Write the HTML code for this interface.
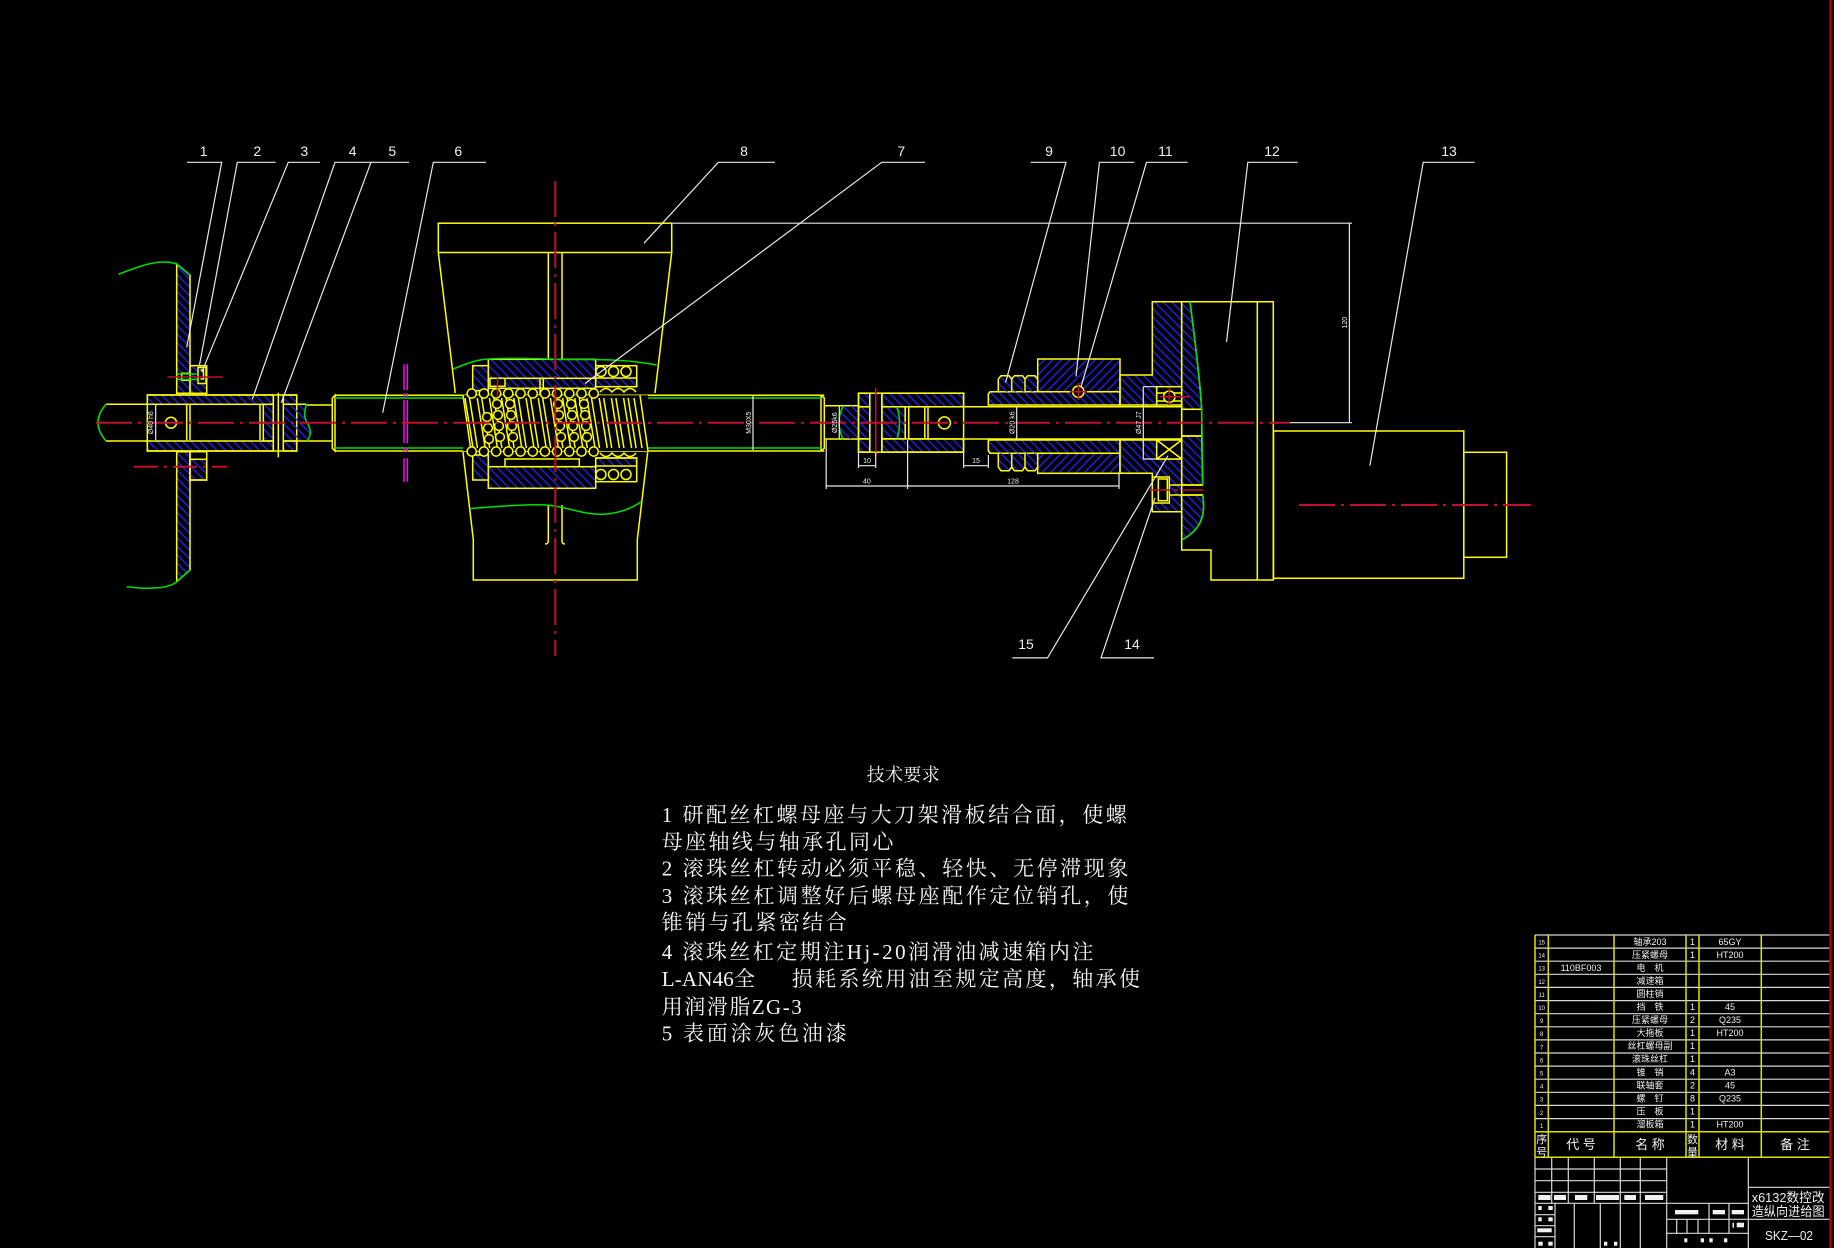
<!DOCTYPE html>
<html><head><meta charset="utf-8"><title>x6132</title>
<style>html,body{margin:0;padding:0;background:#000;overflow:hidden}svg{display:block}</style>
</head><body>
<svg xmlns="http://www.w3.org/2000/svg" width="1834" height="1248" viewBox="0 0 1834 1248">
<defs>
<pattern id="hA" patternUnits="userSpaceOnUse" width="6" height="6" patternTransform="rotate(-45)"><line x1="3" y1="-1" x2="3" y2="7" stroke="#2424ff" stroke-width="1.3"/></pattern>
<pattern id="hB" patternUnits="userSpaceOnUse" width="6" height="6" patternTransform="rotate(45)"><line x1="3" y1="-1" x2="3" y2="7" stroke="#2424ff" stroke-width="1.3"/></pattern>
</defs>
<rect width="1834" height="1248" fill="#000"/>

<!-- ============ LEFT ASSEMBLY ============ -->
<g stroke="#ffff00" stroke-width="1.5" fill="none">
<path d="M176.7,264 L190,275 L190,393.3 L176.7,393.3 Z" fill="url(#hA)"/>
<rect x="190" y="365.7" width="16.7" height="27.6" fill="url(#hA)"/>
<rect x="181.7" y="373.3" width="8.3" height="7" fill="#000"/>
<rect x="198" y="367.5" width="8" height="16" fill="#000"/>
<path d="M200.5,370 h3 v9 h-3"/>
<path d="M176.7,451.7 L190,451.7 L190,570 L176.7,581.7 Z" fill="url(#hA)"/>
<rect x="190" y="451.7" width="16.7" height="28.3"/>
<rect x="190" y="459.3" width="16.7" height="20.7" fill="url(#hA)"/>
<!-- sleeve -->
<rect x="147.3" y="395" width="126" height="9.3" fill="url(#hA)"/>
<rect x="147.3" y="441" width="126" height="10" fill="url(#hA)"/>
<rect x="283.3" y="395" width="13.4" height="9.3" fill="url(#hA)"/>
<rect x="283.3" y="441" width="13.4" height="10" fill="url(#hA)"/>
<rect x="147.3" y="395" width="149.4" height="56"/>
<rect x="263.3" y="404.3" width="10" height="36.7" fill="url(#hA)"/>
<path d="M283.3,404.3 L306.7,404.3 Q302,416 308,424 Q313,434 307,441 L283.3,441 Z" fill="url(#hA)" stroke="none"/>
<path d="M283.3,404.3 H306.7 M283.3,441 H307"/>
<path d="M186.7,405 V440 M190,405 V440 M260,405 V440"/>
<circle cx="171" cy="422.7" r="5.5"/>
<path d="M273.3,395 V451 M283.3,395 V451 M278.3,392.7 V457.3"/>
<!-- shafts -->
<path d="M106,404.3 H147.3 M106,441 H147.3"/>
<path d="M306.7,405 H332.3 M307,441 H332.3"/>
<!-- spindle -->
<path d="M335,395.3 H824.3 M335,451 H824.3"/>
<path d="M335,395.3 L332.3,398 L332.3,448.3 L335,451 Z"/>
<path d="M821,395.3 V451 M821,395.3 L824.3,398 L824.3,448.3 L821,451"/>
</g>
<g stroke="#00e000" stroke-width="1.5" fill="none">
<path d="M118.3,274.3 C140,266 160,258 176.7,264 L190,275"/>
<path d="M126.7,586.7 C150,590 170,588 176.7,581.7 L190,570"/>
<path d="M106,404.3 Q90,422.7 106,441"/>
<path d="M306.7,404.3 Q302,416 308,424 Q313,434 307,441"/>
<path d="M176.7,374 H198 M176.7,379.5 H198"/>
<path d="M335,398 H463 M648,398 H821 M335,448 H463 M648,448 H821"/>
</g>
<!-- magenta section marks -->
<g stroke="#ff00ff" stroke-width="1.5">
<path d="M404,364.3 V390 M404,393.3 V396.7 M404,400 V443.3 M404,447.7 V451.7 M404,458.3 V481.7"/>
<path d="M407.3,364.3 V390 M407.3,393.3 V396.7 M407.3,400 V443.3 M407.3,447.7 V451.7 M407.3,458.3 V481.7"/>
</g>

<!-- ============ NUT HOUSING 8 ============ -->
<g stroke="#ffff00" stroke-width="1.5" fill="none">
<rect x="438.3" y="223.2" width="233.4" height="29.3"/>
<path d="M438.3,252.5 L455.3,393 M671.7,252.5 L655,393"/>
<path d="M463,452 L473.3,539.6 L473.3,580 L637.3,580 L637.3,539.6 L647.7,452"/>
<path d="M548.3,252.5 V360 M562,252.5 V360"/>
<path d="M548.3,505 V541 Q548.3,544 545,544 M562,505 V541 Q562,544 565,544"/>
<!-- ball nut blocks -->
<rect x="488.3" y="359.3" width="107.4" height="19" fill="url(#hA)"/>
<rect x="472.7" y="365.7" width="15.6" height="25" fill="url(#hA)"/>
<rect x="488.3" y="378.3" width="107.4" height="10" fill="url(#hA)"/>
<path d="M540,378.3 V395 M543.3,378.3 V395"/>
<rect x="490" y="378.3" width="15" height="8" fill="#000"/>
<rect x="595.7" y="365.7" width="41" height="21"/>
<rect x="595.7" y="378" width="41" height="8.7" fill="url(#hA)"/>
<circle cx="601" cy="371.5" r="5" fill="#000"/><circle cx="613.5" cy="371.5" r="5" fill="#000"/><circle cx="626" cy="371.5" r="5" fill="#000"/>
<rect x="472.7" y="455" width="15.6" height="25" fill="url(#hA)"/>
<rect x="505" y="459" width="74.3" height="7.7"/>
<rect x="488.3" y="466.7" width="107.4" height="21.6" fill="url(#hA)"/>
<rect x="595.7" y="458" width="41" height="23.7"/>
<rect x="595.7" y="458" width="41" height="8" fill="url(#hA)"/>
<circle cx="601" cy="474.5" r="5" fill="#000"/><circle cx="613.5" cy="474.5" r="5" fill="#000"/><circle cx="626" cy="474.5" r="5" fill="#000"/>
<!-- thread -->
<rect x="463" y="395.3" width="185" height="55.7" fill="#000" stroke="none"/>
<path d="M463,395.3 L471,451 M640,395.3 L648,451"/>
<path d="M465,398 l8,50 M469.5,398 l8,50 M477.2,398 l8,50 M481.7,398 l8,50 M489.4,398 l8,50 M493.9,398 l8,50 M501.6,398 l8,50 M506.1,398 l8,50 M513.8,398 l8,50 M518.3,398 l8,50 M526,398 l8,50 M530.5,398 l8,50 M538.2,398 l8,50 M542.7,398 l8,50 M550.4,398 l8,50 M554.9,398 l8,50 M562.6,398 l8,50 M567.1,398 l8,50 M574.8,398 l8,50 M579.3,398 l8,50 M587,398 l8,50 M591.5,398 l8,50 M599.2,398 l8,50 M603.7,398 l8,50 M611.4,398 l8,50 M615.9,398 l8,50 M623.6,398 l8,50 M628.1,398 l8,50 M634,398 l8,50"/>
<g fill="#000">
<circle cx="471.7" cy="393.5" r="4.6"/><circle cx="483.9" cy="393.5" r="4.6"/><circle cx="496.1" cy="393.5" r="4.6"/><circle cx="508.3" cy="393.5" r="4.6"/><circle cx="520.5" cy="393.5" r="4.6"/><circle cx="532.7" cy="393.5" r="4.6"/><circle cx="544.9" cy="393.5" r="4.6"/><circle cx="557.1" cy="393.5" r="4.6"/><circle cx="569.3" cy="393.5" r="4.6"/><circle cx="581.5" cy="393.5" r="4.6"/><circle cx="593.7" cy="393.5" r="4.6"/>
<circle cx="471.7" cy="451.5" r="4.6"/><circle cx="483.9" cy="451.5" r="4.6"/><circle cx="496.1" cy="451.5" r="4.6"/><circle cx="508.3" cy="451.5" r="4.6"/><circle cx="520.5" cy="451.5" r="4.6"/><circle cx="532.7" cy="451.5" r="4.6"/><circle cx="544.9" cy="451.5" r="4.6"/><circle cx="557.1" cy="451.5" r="4.6"/><circle cx="569.3" cy="451.5" r="4.6"/><circle cx="581.5" cy="451.5" r="4.6"/><circle cx="593.7" cy="451.5" r="4.6"/>
<circle cx="487" cy="417" r="4.4"/><circle cx="488" cy="428" r="4.4"/><circle cx="489" cy="439" r="4.4"/>
<circle cx="497" cy="404" r="4.4"/><circle cx="498" cy="415" r="4.4"/><circle cx="499" cy="426" r="4.4"/><circle cx="500" cy="437" r="4.4"/>
<circle cx="510" cy="404" r="4.4"/><circle cx="511" cy="415" r="4.4"/><circle cx="512" cy="426" r="4.4"/><circle cx="513" cy="437" r="4.4"/>
<circle cx="558" cy="404" r="4.4"/><circle cx="559" cy="415" r="4.4"/><circle cx="560" cy="426" r="4.4"/><circle cx="561" cy="437" r="4.4"/>
<circle cx="571" cy="404" r="4.4"/><circle cx="572" cy="415" r="4.4"/><circle cx="573" cy="426" r="4.4"/><circle cx="574" cy="437" r="4.4"/>
<circle cx="584" cy="404" r="4.4"/><circle cx="585" cy="415" r="4.4"/><circle cx="586" cy="426" r="4.4"/><circle cx="587" cy="437" r="4.4"/>
</g>
<path d="M600,392 Q606,385 612,392 Q618,385 624,392 Q630,385 636,392 M600,453 Q606,460 612,453 Q618,460 624,453 Q630,460 636,453"/>
</g>
<g stroke="#00e000" stroke-width="1.5" fill="none">
<path d="M453.3,369 C470,362 480,359 490,359 C520,357 550,360 580,359.5 C620,359 640,362 656.7,365"/>
<path d="M470,508.6 C500,506 530,504 546.7,505 C570,507 585,516 606.7,514 C625,512 635,506 641.7,501.4"/>
</g>

<!-- ============ RIGHT OF SPINDLE ============ -->
<g stroke="#ffff00" stroke-width="1.5" fill="none">
<path d="M824.3,405.7 H858.5 M824.3,439 H858.5"/>
<path d="M843,406 Q835,422.7 843,439 L858.5,439 L858.5,406 Z" fill="url(#hA)" stroke="none"/>
<rect x="858.5" y="393.2" width="11.3" height="13.6" fill="url(#hA)"/>
<rect x="858.5" y="438.9" width="11.3" height="13.2" fill="url(#hA)"/>
<rect x="881.9" y="393.2" width="81.7" height="13.6" fill="url(#hA)"/>
<rect x="881.9" y="438.9" width="81.7" height="13.2" fill="url(#hA)"/>
<rect x="858.5" y="406.8" width="11.3" height="32.1" fill="url(#hA)"/>
<path d="M881.9,406.8 H905.2 V438.9 H881.9 Z" fill="url(#hA)"/>
<rect x="858.5" y="393.2" width="105.1" height="58.9"/>
<path d="M869.8,393.2 V452.1 M881.9,393.2 V452.1 M905.2,406.8 V438.9 M908.7,406.8 V438.9"/>
<path d="M908.7,406.8 H1181.7 M908.7,439 H1181.7"/>
<path d="M924.8,407 V438.5 M928,407 V438.5"/>
<circle cx="944.4" cy="422.9" r="6"/>
<path d="M990,391.7 L1120,391.7 L1120,405 L988.3,405 L988.3,394 Z" fill="url(#hA)"/>
<path d="M988.3,440 L1120,440 L1120,453.3 L990,453.3 L988.3,451 Z" fill="url(#hA)"/>
<path d="M998.3,391.7 V379 L1001,375.7 H1009 L1011.7,379 V391.7 M1011.7,391.7 V379 L1014.4,375.7 H1022.4 L1025,379 V391.7 M1025,391.7 V379 L1027.7,375.7 H1035 L1037.7,379 V391.7" fill="url(#hA)"/>
<path d="M998.3,453.3 V467 L1001,470.7 H1009 L1011.7,467 V453.3 M1011.7,453.3 V467 L1014.4,470.7 H1022.4 L1025,467 V453.3 M1025,453.3 V467 L1027.7,470.7 H1035 L1037.7,467 V453.3" fill="url(#hA)"/>
<rect x="1037.7" y="359" width="82.3" height="32.7" fill="url(#hB)"/>
<rect x="1037.7" y="453.3" width="82.3" height="20" fill="url(#hB)"/>
<circle cx="1078.3" cy="391.7" r="5.7" fill="#000"/>
<path d="M1120,375 L1152.3,375 L1152.3,301.7 L1181.7,301.7 L1181.7,386.7 L1156.7,386.7 L1156.7,405 L1120,405 Z" fill="url(#hA)"/>
<path d="M1120,440 L1156.7,440 L1156.7,459 L1181.7,459 L1181.7,511.7 L1152.3,511.7 L1152.3,473.3 L1120,473.3 Z" fill="url(#hA)"/>
<rect x="1156.7" y="386.7" width="25" height="18.3" fill="#000"/>
<path d="M1156.7,393 H1181.7 M1156.7,401 H1181.7"/>
<circle cx="1169.3" cy="396.7" r="5.7" fill="#000"/>
<rect x="1156.7" y="440" width="25" height="19" fill="#000"/>
<path d="M1156.7,440 L1181.7,459 M1181.7,440 L1156.7,459"/>
<rect x="1152.3" y="477" width="17" height="26" fill="#000"/>
<rect x="1158.3" y="479" width="9" height="21.7"/>
<path d="M1181.7,301.7 L1190,301.7 C1195,340 1200,380 1201.7,409.3 L1181.7,409.3 Z" fill="url(#hA)"/>
<path d="M1181.7,436 L1201.7,436 L1202.7,485 L1181.7,485 Z" fill="url(#hA)"/>
<rect x="1181.7" y="409.3" width="20" height="26.7"/>
<path d="M1169,485 H1202.7 M1169,495 H1202.7"/>
<path d="M1181.7,495 L1202.7,495 C1206,515 1201,530 1181.7,540 Z" fill="url(#hA)"/>
<path d="M1181.7,301.7 L1273.3,301.7 L1273.3,580 L1211,580 L1211,550 L1181.7,550 Z"/>
<path d="M1257.3,301.7 V580"/>
<rect x="1273.5" y="431" width="190.3" height="147.3"/>
<rect x="1463.8" y="452.3" width="42.8" height="105"/>
</g>
<g stroke="#00e000" stroke-width="1.5" fill="none">
<path d="M843,406 Q835,422.7 843,439"/>
<path d="M897,407 Q902,422.7 897,438.5"/>
<path d="M1190,301.7 C1195,340 1200,380 1201.7,409.3 L1202.7,485"/>
<path d="M1202.7,495 C1206,515 1201,530 1181.7,540"/>
</g>

<!-- ============ CENTERLINES ============ -->
<g stroke="#c0102a" stroke-width="2" fill="none" stroke-dasharray="36 6 3 6">
<path d="M96,422.7 H1290"/>
<path d="M555.3,181 V656"/>
<path d="M1299,505 H1531"/>
<path d="M134,466.7 H227" stroke-dasharray="24 6 3 6"/>
</g>
<g stroke="#c0102a" stroke-width="1.6" fill="none">
<path d="M167.3,377 H222.7"/>
<path d="M497.5,378 V396"/>
<path d="M875.7,387.9 V456"/>
<path d="M1078.3,383 V400 M1070,391.7 H1087"/>
<path d="M1169.3,388 V405 M1160,396.7 H1190"/>
<path d="M1150,490 H1170 M1174,490 H1178 M1182,490 H1203" />
</g>

<!-- ============ WHITE DIMENSIONS & LEADERS ============ -->
<g stroke="#e8e8e8" stroke-width="1.2" fill="none">
<path d="M671.7,223.2 H1352 M1290,422.7 H1352 M1349.4,223.3 V422.7"/>
<path d="M155.7,405 V440 M753,396 V450 M839.3,406 V438.5 M1143.3,386.7 V459 M1143.3,386.7 H1156.7 M1143.3,459 H1156.7 M1016.7,407 V438.5"/>
<path d="M858.5,452 V468 M875.7,452 V468 M858.5,465.7 H875.7"/>
<path d="M963.6,452 V468 M988.4,455 V468 M963.6,465.7 H988.4"/>
<path d="M826.2,440 V489 M907.6,440 V489 M1119,474 V489 M826.2,486 H1119"/>
<path d="M187,162.3 H221.7 L186.7,347.3"/>
<path d="M275.7,162.3 H237.3 L199.3,366"/>
<path d="M320,162.3 H288.3 L201.7,372.3"/>
<path d="M371,162.3 H335 L252.3,399.3"/>
<path d="M409,162.3 H371 L281.3,402.7"/>
<path d="M486,162.3 H433.3 L382.7,412.7"/>
<path d="M775,162.3 H718.3 L644,243.2"/>
<path d="M925,162.3 H881.7 L585,383.6"/>
<path d="M1030.6,162.3 H1066 L1005.6,382.5"/>
<path d="M1134.4,162.3 H1099.4 L1076,376.4"/>
<path d="M1187.7,162.3 H1146.5 L1081,387"/>
<path d="M1297.7,162.3 H1247.8 L1226.5,342"/>
<path d="M1474.6,162.3 H1423.2 L1369.9,465.7"/>
<path d="M1012.4,657.9 H1047.5 L1168,455.7"/>
<path d="M1154,657.9 H1101 L1155,497.9"/>
</g>
<g fill="#f0f0f0" font-family="Liberation Sans, sans-serif" font-size="14" text-anchor="middle">
<text x="203.7" y="156">1</text><text x="257.3" y="156">2</text><text x="304.3" y="156">3</text>
<text x="352.7" y="156">4</text><text x="392.3" y="156">5</text><text x="458.3" y="156">6</text>
<text x="901.3" y="156">7</text><text x="744" y="156">8</text><text x="1049" y="156">9</text>
<text x="1117.6" y="156">10</text><text x="1165.4" y="156">11</text><text x="1272" y="156">12</text>
<text x="1449" y="156">13</text><text x="1132" y="649">14</text><text x="1026" y="649">15</text>
</g>
<g fill="#f0f0f0" font-family="Liberation Sans, sans-serif" font-size="7" text-anchor="middle">
<text transform="translate(153,422.7) rotate(-90)">Ø40 h6</text>
<text transform="translate(751,422.7) rotate(-90)">M30X5</text>
<text transform="translate(837,422.7) rotate(-90)">Ø25k6</text>
<text transform="translate(1014.5,422.7) rotate(-90)">Ø20 k6</text>
<text transform="translate(1141,422.7) rotate(-90)">Ø47 J7</text>
<text transform="translate(1347,322.7) rotate(-90)">120</text>
<text x="867" y="463">10</text><text x="976" y="463">15</text>
<text x="866.9" y="483.5">40</text><text x="1013" y="483.5">128</text>
</g>

<!-- ============ TECH REQUIREMENTS ============ -->
<g fill="#f4f4f4" font-family="Liberation Serif, 'Noto Serif CJK SC', serif" font-size="21">
<text x="866.7" y="781" font-size="18" textLength="73" lengthAdjust="spacing">技术要求</text>
<text x="661.7" y="822" textLength="465" lengthAdjust="spacing">1 研配丝杠螺母座与大刀架滑板结合面，使螺</text>
<text x="661.7" y="849" textLength="231.7" lengthAdjust="spacing">母座轴线与轴承孔同心</text>
<text x="661.7" y="875.5" textLength="466.7" lengthAdjust="spacing">2 滚珠丝杠转动必须平稳、轻快、无停滞现象</text>
<text x="661.7" y="903" textLength="466.7" lengthAdjust="spacing">3 滚珠丝杠调整好后螺母座配作定位销孔，使</text>
<text x="661.7" y="929.5" textLength="185" lengthAdjust="spacing">锥销与孔紧密结合</text>
<text x="661.7" y="959" textLength="431.7" lengthAdjust="spacing">4 滚珠丝杠定期注Hj-20润滑油减速箱内注</text>
<text x="661.7" y="986" textLength="93.3" lengthAdjust="spacing">L-AN46全</text>
<text x="791.7" y="986" textLength="348.3" lengthAdjust="spacing">损耗系统用油至规定高度，轴承使</text>
<text x="661.7" y="1014" textLength="140" lengthAdjust="spacing">用润滑脂ZG-3</text>
<text x="661.7" y="1040.5" textLength="185" lengthAdjust="spacing">5 表面涂灰色油漆</text>
</g>

<!-- ============ TITLE BLOCK ============ -->
<g stroke="#d8d8d8" stroke-width="1.2" fill="none">
<path d="M1535,935 H1830 M1535,948.1 H1830 M1535,961.2 H1830 M1535,974.3 H1830 M1535,987.4 H1830 M1535,1000.6 H1830 M1535,1013.7 H1830 M1535,1026.8 H1830 M1535,1039.9 H1830 M1535,1053 H1830 M1535,1066.1 H1830 M1535,1079.2 H1830 M1535,1092.3 H1830 M1535,1105.4 H1830 M1535,1118.6 H1830"/>
<path d="M1535,1157.3 V1248 M1551.7,1157.3 V1203.3 M1568.3,1157.3 V1203.3 M1594.3,1157.3 V1203.3 M1620.3,1157.3 V1248 M1640.3,1157.3 V1248 M1666.7,1157.3 V1248 M1748.3,1157.3 V1248"/>
<path d="M1535,1169 H1666.7 M1535,1180.7 H1666.7 M1535,1192.3 H1666.7 M1535,1203.3 H1748.3 M1535,1214.7 H1555 M1535,1225.7 H1555 M1535,1236.7 H1555"/>
<path d="M1555,1203.3 V1248 M1574.3,1203.3 V1248 M1600.3,1203.3 V1248"/>
<path d="M1666.7,1219.3 H1830 M1666.7,1233.3 H1748.3 M1748.3,1187.3 H1830 M1709,1203.3 V1233.3 M1729,1203.3 V1233.3 M1676.7,1219.3 V1233.3 M1687,1219.3 V1233.3 M1698,1219.3 V1233.3"/>
</g>
<g stroke="#e0e000" stroke-width="1.5" fill="none">
<path d="M1535,935 V1157.3 M1548.3,935 V1157.3 M1614,935 V1157.3 M1686,935 V1157.3 M1699,935 V1157.3 M1761.3,935 V1157.3"/>
<path d="M1535,1131.7 H1830 M1535,1157.3 H1830"/>
</g>
<g fill="#f0f0f0">
<rect x="1538.3" y="1195" width="12.4" height="5"/><rect x="1554" y="1195" width="12" height="5"/><rect x="1575" y="1195" width="12.3" height="5"/><rect x="1596" y="1195" width="23" height="5"/><rect x="1624.3" y="1195" width="11.7" height="5"/><rect x="1645" y="1195" width="18.3" height="5"/>
<rect x="1538.3" y="1206" width="3.4" height="4"/><rect x="1548.3" y="1206" width="4.4" height="4"/>
<rect x="1538.3" y="1217.3" width="3.4" height="4"/><rect x="1548.3" y="1217.3" width="4.4" height="4"/>
<rect x="1537.3" y="1228.3" width="14.4" height="4"/>
<rect x="1538.3" y="1241.7" width="4.4" height="4"/><rect x="1548.3" y="1241.7" width="4.4" height="4"/>
<rect x="1604" y="1241.7" width="3.3" height="4"/><rect x="1614" y="1241.7" width="3.3" height="4"/>
<rect x="1675" y="1210" width="23.3" height="4.3"/><rect x="1712.7" y="1210" width="12.3" height="4.3"/><rect x="1731.7" y="1210" width="12.3" height="4.3"/>
<rect x="1736.7" y="1222.7" width="7.3" height="4.6"/><rect x="1732.5" y="1222.7" width="1.5" height="5"/>
<rect x="1684.3" y="1238.3" width="3" height="4"/><rect x="1700.7" y="1238.3" width="3.3" height="4"/><rect x="1709.3" y="1238.3" width="3.4" height="4"/><rect x="1724" y="1238.3" width="3.3" height="4"/>
</g>
<g fill="#f0f0f0" font-family="Liberation Sans, 'Noto Sans CJK SC', sans-serif" font-size="9" text-anchor="middle">
<text x="1541.7" y="944.5" font-size="6">15</text><text x="1650" y="945">轴承203</text><text x="1692.5" y="945">1</text><text x="1730" y="945">65GY</text>
<text x="1541.7" y="957.6" font-size="6">14</text><text x="1650" y="958">压紧螺母</text><text x="1692.5" y="958">1</text><text x="1730" y="958">HT200</text>
<text x="1541.7" y="970.7" font-size="6">13</text><text x="1581" y="971">110BF003</text><text x="1650" y="971">电　机</text>
<text x="1541.7" y="983.8" font-size="6">12</text><text x="1650" y="984">减速箱</text>
<text x="1541.7" y="996.9" font-size="6">11</text><text x="1650" y="997">圆柱销</text>
<text x="1541.7" y="1010" font-size="6">10</text><text x="1650" y="1010">挡　铁</text><text x="1692.5" y="1010">1</text><text x="1730" y="1010">45</text>
<text x="1541.7" y="1023.1" font-size="6">9</text><text x="1650" y="1023">压紧螺母</text><text x="1692.5" y="1023">2</text><text x="1730" y="1023">Q235</text>
<text x="1541.7" y="1036.2" font-size="6">8</text><text x="1650" y="1036">大拖板</text><text x="1692.5" y="1036">1</text><text x="1730" y="1036">HT200</text>
<text x="1541.7" y="1049.3" font-size="6">7</text><text x="1650" y="1049">丝杠螺母副</text><text x="1692.5" y="1049">1</text>
<text x="1541.7" y="1062.4" font-size="6">6</text><text x="1650" y="1062">滚珠丝杠</text><text x="1692.5" y="1062">1</text>
<text x="1541.7" y="1075.5" font-size="6">5</text><text x="1650" y="1075.5">锥　销</text><text x="1692.5" y="1075.5">4</text><text x="1730" y="1075.5">A3</text>
<text x="1541.7" y="1088.6" font-size="6">4</text><text x="1650" y="1088.5">联轴套</text><text x="1692.5" y="1088.5">2</text><text x="1730" y="1088.5">45</text>
<text x="1541.7" y="1101.7" font-size="6">3</text><text x="1650" y="1101.5">螺　钉</text><text x="1692.5" y="1101.5">8</text><text x="1730" y="1101.5">Q235</text>
<text x="1541.7" y="1114.8" font-size="6">2</text><text x="1650" y="1114.5">压　板</text><text x="1692.5" y="1114.5">1</text>
<text x="1541.7" y="1127.9" font-size="6">1</text><text x="1650" y="1127.5">溜板箱</text><text x="1692.5" y="1127.5">1</text><text x="1730" y="1127.5">HT200</text>
<text x="1541.7" y="1143" font-size="11">序</text><text x="1541.7" y="1156" font-size="11">号</text>
<text x="1581" y="1149" font-size="13">代 号</text>
<text x="1650" y="1149" font-size="13">名 称</text>
<text x="1692.5" y="1143" font-size="11">数</text><text x="1692.5" y="1156" font-size="11">量</text>
<text x="1730" y="1149" font-size="13">材 料</text>
<text x="1795" y="1149" font-size="13">备 注</text>
</g>
<g fill="#f0f0f0" font-family="Liberation Sans, 'Noto Sans CJK SC', sans-serif" font-size="13">
<text x="1751.7" y="1202" textLength="73" lengthAdjust="spacingAndGlyphs">x6132数控改</text>
<text x="1751.7" y="1216" textLength="73" lengthAdjust="spacingAndGlyphs">造纵向进给图</text>
<text x="1765" y="1240" textLength="48" lengthAdjust="spacingAndGlyphs">SKZ—02</text>
</g>

<line x1="1830.5" y1="0" x2="1830.5" y2="1248" stroke="#b00000" stroke-width="2.5"/>
</svg>
</body></html>
